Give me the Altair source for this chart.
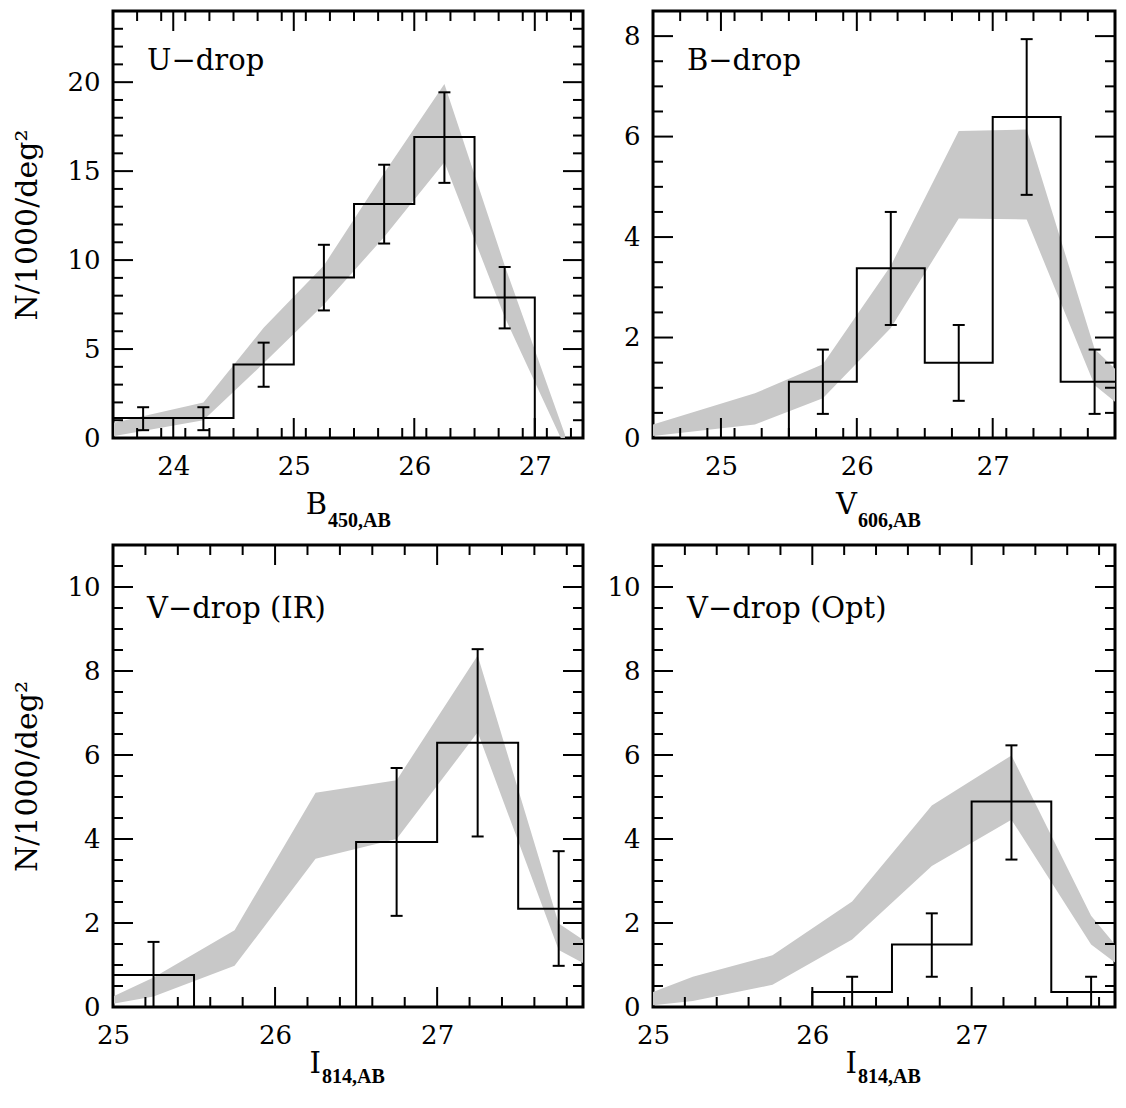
import altair as alt
import pandas as pd
import numpy as np

FONT = "DejaVu Serif"
GRAY = "#c8c8c8"

# ---------------- Panel 1 : U-drop ----------------
u_band_x = [23.5, 24.25, 24.75, 25.25, 25.75, 26.25, 26.75, 27.25]
u_band_hi = [0.85, 1.99, 6.2, 9.7, 14.9, 19.9, 9.7, 0.2]
u_band_lo = [0.1, 1.0, 4.2, 7.5, 11.3, 15.5, 6.8, -0.5]
u_bin_lo = [23.5, 24.0, 24.5, 25.0, 25.5, 26.0, 26.5]
u_bin_val = [1.12, 1.12, 4.13, 9.02, 13.15, 16.92, 7.89]
u_err_x = [23.75, 24.25, 24.75, 25.25, 25.75, 26.25, 26.75]
u_err_hi = [1.73, 1.73, 5.36, 10.86, 15.36, 19.43, 9.61]
u_err_lo = [0.44, 0.44, 2.88, 7.17, 10.93, 14.34, 6.16]

# ---------------- Panel 2 : B-drop ----------------
b_band_x = [24.5, 25.25, 25.75, 26.25, 26.75, 27.25, 27.75, 27.9]
b_band_hi = [0.27, 0.89, 1.47, 3.43, 6.11, 6.14, 1.77, 1.38]
b_band_lo = [0.04, 0.27, 0.79, 2.19, 4.37, 4.35, 1.05, 0.72]
b_bin_lo = [25.5, 26.0, 26.5, 27.0, 27.5]
b_bin_val = [1.12, 3.38, 1.50, 6.39, 1.12]
b_err_x = [25.75, 26.25, 26.75, 27.25, 27.75]
b_err_hi = [1.76, 4.50, 2.25, 7.94, 1.76]
b_err_lo = [0.48, 2.25, 0.74, 4.84, 0.48]

# ---------------- Panel 3 : V-drop (IR) ----------------
vi_band_x = [25.0, 25.25, 25.75, 26.25, 26.75, 27.25, 27.75, 27.9]
vi_band_hi = [0.25, 0.7, 1.83, 5.10, 5.40, 8.37, 1.99, 1.6]
vi_band_lo = [0.08, 0.25, 0.98, 3.53, 4.00, 6.54, 1.36, 1.05]
vi_bin_lo = [25.0, 25.5, 26.0, 26.5, 27.0, 27.5]
vi_bin_val = [0.76, 0.0, 0.0, 3.93, 6.29, 2.34]
vi_err_x = [25.25, 26.75, 27.25, 27.75]
vi_err_hi = [1.55, 5.69, 8.52, 3.71]
vi_err_lo = [0.0, 2.17, 4.06, 0.98]

# ---------------- Panel 4 : V-drop (Opt) ----------------
vo_band_x = [25.0, 25.25, 25.75, 26.25, 26.75, 27.25, 27.75, 27.9]
vo_band_hi = [0.36, 0.72, 1.23, 2.51, 4.80, 5.99, 2.17, 1.49]
vo_band_lo = [0.04, 0.14, 0.53, 1.61, 3.36, 4.46, 1.49, 1.06]
vo_bin_lo = [26.0, 26.5, 27.0, 27.5]
vo_bin_val = [0.36, 1.49, 4.89, 0.36]
vo_err_x = [26.25, 26.75, 27.25, 27.75]
vo_err_hi = [0.72, 2.23, 6.23, 0.72]
vo_err_lo = [0.0, 0.72, 3.51, 0.0]

BIN_W = 0.5

# axis label values
u_xlab = [24, 25, 26, 27]
u_ylab = [0, 5, 10, 15, 20]
b_xlab = [25, 26, 27]
b_ylab = [0, 2, 4, 6, 8]
v_xlab = [25, 26, 27]
v_ylab = [0, 2, 4, 6, 8, 10]


def tick_list(lo, hi, step, major):
    vals = np.round(np.arange(lo, hi + 1e-9, step), 3)
    out = []
    for v in vals:
        r = v / major
        if abs(r - round(r)) > 1e-6:
            out.append(float(v))
    return out


def major_list(lo, hi, major):
    vals = np.round(np.arange(np.ceil(lo / major) * major, hi + 1e-9, major), 3)
    return [float(v) for v in vals if lo < v < hi]


panels = [
    dict(name="U\u2212drop", xdom=[23.5, 27.4], ydom=[0, 24],
         bx=u_band_x, bhi=u_band_hi, blo=u_band_lo,
         hlo=u_bin_lo, hval=u_bin_val, ex=u_err_x, ehi=u_err_hi, elo=u_err_lo,
         xlab=u_xlab, ylab=u_ylab, xminor=0.2, xmajor=1, yminor=1, ymajor=5,
         main="B", sub="450,AB", split=-21),
    dict(name="B\u2212drop", xdom=[24.5, 27.9], ydom=[0, 8.5],
         bx=b_band_x, bhi=b_band_hi, blo=b_band_lo,
         hlo=b_bin_lo, hval=b_bin_val, ex=b_err_x, ehi=b_err_hi, elo=b_err_lo,
         xlab=b_xlab, ylab=b_ylab, xminor=0.2, xmajor=1, yminor=0.5, ymajor=2,
         main="V", sub="606,AB", split=-27),
    dict(name="V\u2212drop (IR)", xdom=[25.0, 27.9], ydom=[0, 11],
         bx=vi_band_x, bhi=vi_band_hi, blo=vi_band_lo,
         hlo=vi_bin_lo, hval=vi_bin_val, ex=vi_err_x, ehi=vi_err_hi, elo=vi_err_lo,
         xlab=v_xlab, ylab=v_ylab, xminor=0.2, xmajor=1, yminor=0.5, ymajor=2,
         main="I", sub="814,AB", split=-27),
    dict(name="V\u2212drop (Opt)", xdom=[25.0, 27.9], ydom=[0, 11],
         bx=vo_band_x, bhi=vo_band_hi, blo=vo_band_lo,
         hlo=vo_bin_lo, hval=vo_bin_val, ex=vo_err_x, ehi=vo_err_hi, elo=vo_err_lo,
         xlab=v_xlab, ylab=v_ylab, xminor=0.2, xmajor=1, yminor=0.5, ymajor=2,
         main="I", sub="814,AB", split=-27),
]


def build(p, w, h, left, label_y, t_main, t_sub):
    xs = alt.Scale(domain=p["xdom"], nice=False, zero=False)
    ys = alt.Scale(domain=p["ydom"], nice=False, zero=False)
    xaxis = alt.Axis(values=p["xlab"], ticks=False, tickSize=0, domain=False, grid=False,
                     labelPadding=15, title=None, labelFont=FONT, labelFontSize=26,
                     labelColor="black", labelFlush=False, labelOverlap=False, labelBound=False)
    ykw = dict(values=p["ylab"], ticks=False, tickSize=0, domain=False, grid=False,
               labelPadding=13, labelFont=FONT, labelFontSize=26, labelColor="black",
               labelFlush=False, labelOverlap=False, labelBound=False)
    if left:
        ykw.update(title="N/1000/deg\u00b2", titleX=-77, titleY=h / 2, titleAngle=270,
                   titleBaseline="alphabetic", titleAlign="center", titleFont=FONT,
                   titleFontSize=30, titleFontWeight="normal", titleColor="black")
    else:
        ykw.update(title=None)
    yaxis = alt.Axis(**ykw)

    def X(f):
        return alt.X(f, scale=xs, axis=xaxis)

    def Y(f):
        return alt.Y(f, scale=ys, axis=yaxis)

    df_band = pd.DataFrame({"x": p["bx"], "hi": p["bhi"], "lo": p["blo"]})
    band = alt.Chart(df_band).mark_area(color=GRAY, clip=True, opacity=1).encode(
        x=X("x:Q"), y=Y("hi:Q"), y2="lo:Q")

    hx = [p["hlo"][0]] + list(p["hlo"]) + [p["hlo"][-1] + BIN_W]
    hy = [0.0] + list(p["hval"]) + [0.0]
    df_hist = pd.DataFrame({"x": hx, "y": hy, "i": list(range(len(hx)))})
    hist = alt.Chart(df_hist).mark_line(interpolate="step-after", color="black",
                                        strokeWidth=2, clip=True).encode(
        x=X("x:Q"), y=Y("y:Q"), order="i:Q")

    df_err = pd.DataFrame({"x": p["ex"], "hi": p["ehi"], "lo": p["elo"]})
    errs = alt.Chart(df_err).mark_rule(color="black", strokeWidth=2).encode(
        x=X("x:Q"), y=Y("hi:Q"), y2="lo:Q")
    df_caps = pd.DataFrame({"x": list(p["ex"]) * 2, "y": list(p["ehi"]) + list(p["elo"])})
    caps = alt.Chart(df_caps).mark_tick(orient="horizontal", size=12, thickness=2,
                                        color="black", opacity=1).encode(
        x=X("x:Q"), y=Y("y:Q"))

    x0, x1 = p["xdom"]
    y0, y1 = p["ydom"]
    dx_major = pd.DataFrame({"v": major_list(x0, x1, p["xmajor"])})
    dx_minor = pd.DataFrame({"v": [v for v in tick_list(x0, x1, p["xminor"], p["xmajor"]) if x0 < v < x1]})
    dy_major = pd.DataFrame({"v": major_list(y0, y1, p["ymajor"])})
    dy_minor = pd.DataFrame({"v": [v for v in tick_list(y0, y1, p["yminor"], p["ymajor"]) if y0 < v < y1]})

    rules = []
    for df, ln in ((dx_major, 20), (dx_minor, 10)):
        rules.append(alt.Chart(df).mark_rule(color="black", strokeWidth=2).encode(
            x=X("v:Q"), y=alt.value(h), y2=alt.value(h - ln)))
        rules.append(alt.Chart(df).mark_rule(color="black", strokeWidth=2).encode(
            x=X("v:Q"), y=alt.value(0), y2=alt.value(ln)))
    for df, ln in ((dy_major, 20), (dy_minor, 10)):
        rules.append(alt.Chart(df).mark_rule(color="black", strokeWidth=2).encode(
            y=Y("v:Q"), x=alt.value(0), x2=alt.value(ln)))
        rules.append(alt.Chart(df).mark_rule(color="black", strokeWidth=2).encode(
            y=Y("v:Q"), x=alt.value(w), x2=alt.value(w - ln)))

    lab = alt.Chart(pd.DataFrame({"t": [p["name"]]})).mark_text(
        align="left", baseline="alphabetic", font=FONT, fontSize=29, color="black").encode(
        x=alt.value(34), y=alt.value(label_y), text="t:N")

    xt_main = alt.Chart(pd.DataFrame({"t": [p["main"]]})).mark_text(
        align="right", baseline="alphabetic", font=FONT, fontSize=29, color="black").encode(
        x=alt.value(w / 2 + p["split"]), y=alt.value(h + t_main), text="t:N")
    xt_sub = alt.Chart(pd.DataFrame({"t": [p["sub"]]})).mark_text(
        align="left", baseline="alphabetic", font="Liberation Serif", fontWeight="bold",
        fontSize=20, color="black").encode(
        x=alt.value(w / 2 + p["split"] + 1), y=alt.value(h + t_sub), text="t:N")

    return alt.layer(band, hist, errs, caps, *rules, lab, xt_main, xt_sub).properties(
        width=w, height=h)


TOP_H = 427
BOT_H = 462
c1 = build(panels[0], 470, TOP_H, True, 58.5, 76, 89)
c2 = build(panels[1], 462, TOP_H, False, 58.5, 76, 89)
c3 = build(panels[2], 470, BOT_H, True, 73, 66, 76)
c4 = build(panels[3], 462, BOT_H, False, 73, 66, 76)

chart = alt.concat(c1, c2, c3, c4, columns=2, spacing={"row": 107, "column": 70},
                   bounds="flush", align="each").properties(
    padding={"left": 2, "top": 0, "right": 0, "bottom": 0},
    background="white",
).configure(font=FONT).configure_view(stroke="black", strokeWidth=3)

chart.save("out.html", embed_options={"renderer": "svg", "actions": False})
